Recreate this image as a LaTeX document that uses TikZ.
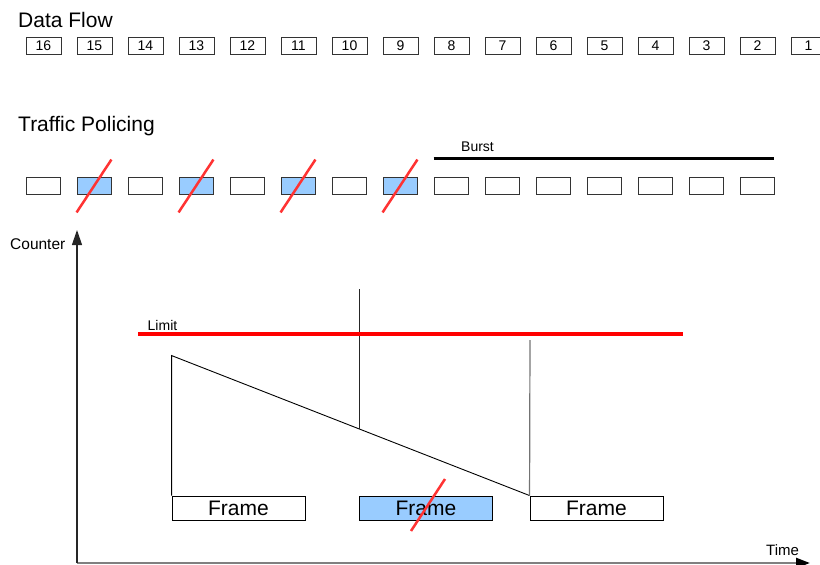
\documentclass[tikz,border=0pt]{standalone}
\usepackage{fontspec}
\setmainfont{Liberation Sans}
\usetikzlibrary{arrows.meta,positioning}

\definecolor{dropblue}{HTML}{99CCFF}
\definecolor{cutred}{HTML}{FF3333}
\definecolor{axisgray}{HTML}{808080}

\begin{document}
\begin{tikzpicture}[x=1pt,y=-1pt,
    pkt/.style={draw=black!80,line width=0.9pt,minimum width=34pt,minimum height=17pt,inner sep=0pt,font=\fontsize{14}{14}\selectfont},
    dropped/.style={pkt,fill=dropblue},
    cut/.style={cutred,line width=2.5pt},
    frm/.style={draw,line width=0.9pt,minimum width=133pt,minimum height=24pt,inner sep=0pt,font=\fontsize{21}{21}\selectfont},
    ttl/.style={anchor=base west,inner sep=0pt,font=\fontsize{21}{21}\selectfont},
    lbl/.style={anchor=base west,inner sep=0pt,font=\fontsize{14}{14}\selectfont}]
  \useasboundingbox (0,0) rectangle (820,565);
  \clip (0,0) rectangle (820,565);

  %data flow
  \node[ttl] (flow) at (18,27) {Data Flow};
  \foreach \n in {1,...,16}
    \node[pkt,minimum width=35pt] (d\n) at ({43.5+(16-\n)*51},45.5) {\n};

  %policing
  \node[ttl] (policing) at (18,131) {Traffic Policing};
  \foreach \k in {1,3,5,7,9,10,11,12,13,14,15}
    \node[pkt] (p\k) at ({43+(\k-1)*51},185.5) {};
  \foreach \k in {2,4,6,8}{
    \node[dropped] (p\k) at ({43+(\k-1)*51},185.5) {};
    \draw[cut] ([yshift=-18pt]p\k.south west) -- ([yshift=17pt]p\k.north east);
  }
  \draw[line width=3pt] ([yshift=18pt]p9.north west) -- ([yshift=18pt]p15.north east);
  \node[lbl] (burst) at (461,151.5) {Burst};

  %axes
  \coordinate (O) at (77,563);
  \coordinate (ytip) at (77,230);
  \coordinate (xtip) at (810,563);
  \draw[line width=2.5pt,axisgray,-{Triangle[length=14pt,width=10pt,color=black]}] (O) -- (xtip);
  \draw[line width=1.2pt,black!85,-{Triangle[length=15pt,width=10pt]}] (O) -- (ytip);
  \node[lbl,font=\fontsize{15.5}{15.5}\selectfont] (counter) at (10,249) {Counter};
  \node[lbl,font=\fontsize{15}{15}\selectfont] (time) at (766,555) {Time};

  %frames
  \node[frm] (f1) at (238.5,508) {Frame};
  \node[frm,fill=dropblue] (f2) at (426,508) {Frame};
  \node[frm] (f3) at (596.5,508) {Frame};
  \draw[cut] ([shift={(-15pt,-23pt)}]f2.center) -- ([shift={(19pt,29pt)}]f2.center);

  %counter
  \coordinate (drop) at (359.5,429.3);
  \coordinate (peak) at (359.5,289);
  \coordinate (mark) at (530,340);
  \draw[line width=0.9pt] (f1.north west) -- ++(0,-140) coordinate (top) -- (f3.north west);
  \draw[line width=1pt,black!85] (peak) -- (drop);
  \draw[line width=1.2pt,black!55] (mark) -- (f3.north west);

  %limit
  \coordinate (lim1) at (138,334);
  \coordinate (lim2) at (683,334);
  \draw[red,line width=3.5pt] (lim1) -- (lim2);
  \node[lbl] (limit) at (147.5,330.5) {Limit};
\end{tikzpicture}
\end{document}
